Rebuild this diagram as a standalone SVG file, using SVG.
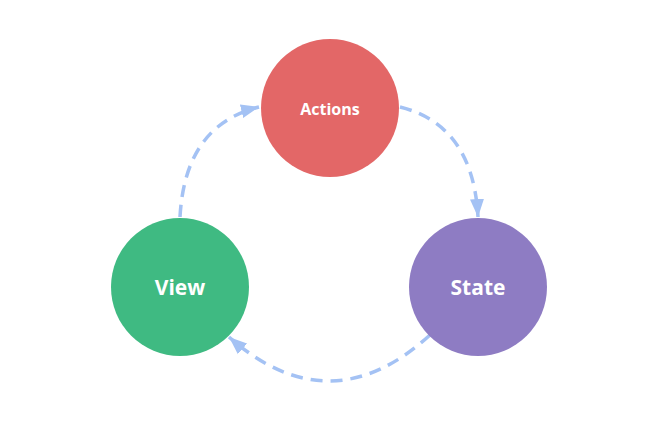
<svg xmlns="http://www.w3.org/2000/svg" width="663" height="428" viewBox="0 0 663 428">
<style>
.node text{font-family:"Open Sans","Liberation Sans",sans-serif;font-weight:bold;fill:#fff;text-anchor:middle}
.conn path{fill:none;stroke:#a4c2f4;stroke-width:3.5;stroke-dasharray:12 8;marker-end:url(#ah)}
</style>
<defs>
<marker id="ah" markerUnits="userSpaceOnUse" markerWidth="20" markerHeight="16" refX="18" refY="8" orient="auto">
<path d="M0,1 L18,8 L0,15 Z" fill="#a4c2f4"/>
</marker>
</defs>
<rect width="663" height="428" fill="#fff"/>
<g class="conn">
<path d="M180,217 Q185,125 259,107"/>
<path d="M400,107 Q473,125 478,217"/>
<path d="M430,335 Q330,426 229,337"/>
</g>
<g class="node" id="actions">
<circle cx="330" cy="108" r="69" fill="#e36767"/>
<text x="330" y="115" font-size="16">Actions</text>
</g>
<g class="node" id="view">
<circle cx="180" cy="287" r="69" fill="#3fba82"/>
<text x="180" y="295" font-size="21">View</text>
</g>
<g class="node" id="state">
<circle cx="478" cy="287" r="69" fill="#8e7cc3"/>
<text x="478" y="295" font-size="21">State</text>
</g>
</svg>
